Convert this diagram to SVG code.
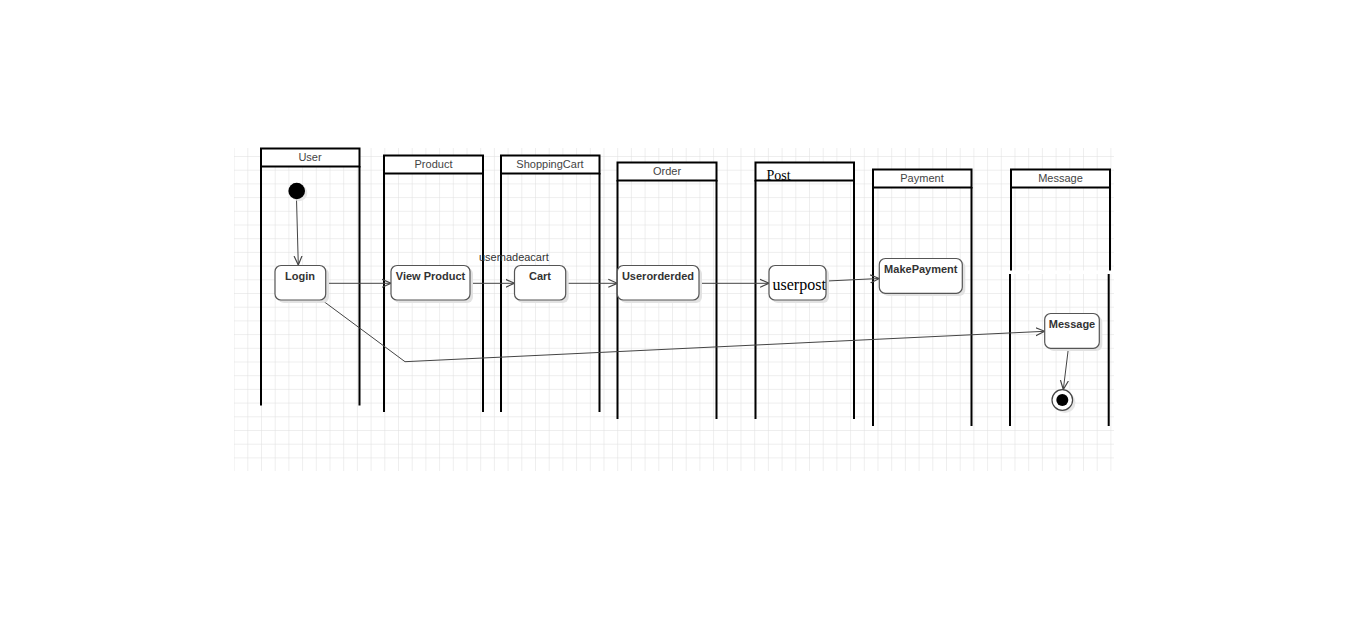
<svg xmlns="http://www.w3.org/2000/svg" width="1350" height="619" viewBox="0 0 1350 619">
<style>
.lane{fill:none;stroke:#000;stroke-width:2}
.hdr{fill:#fff;stroke:#000;stroke-width:2}
.ht{font-family:"Liberation Sans",Arial,sans-serif;font-size:11px;fill:#444;text-anchor:middle}
.node{fill:#fff;stroke:#555;stroke-width:1.2}
.shadow{fill:#e2e2e2}
.nt{font-family:"Liberation Sans",Arial,sans-serif;font-size:11px;font-weight:bold;fill:#333;text-anchor:middle}
.st{font-family:"Liberation Serif","Times New Roman",serif;fill:#000}
.edge{fill:none;stroke:#444;stroke-width:1}
.lbl{font-family:"Liberation Sans",Arial,sans-serif;font-size:11px;fill:#333}
</style>
<defs>
<pattern id="grid" x="233.6" y="142.3" width="13.7" height="13.7" patternUnits="userSpaceOnUse">
<path d="M0 0H13.7M0 0V13.7" fill="none" stroke="#dedede" stroke-width="1"/>
</pattern>
<marker id="arr" viewBox="0 0 10 10" refX="9" refY="5" markerWidth="10" markerHeight="10" markerUnits="userSpaceOnUse" orient="auto">
<path d="M0 1L9 5L0 9" fill="none" stroke="#444" stroke-width="1.2"/>
</marker>
</defs>
<rect width="1350" height="619" fill="#fff"/>
<rect x="234" y="148" width="880" height="323" fill="url(#grid)"/>
<rect x="1005" y="270.5" width="112" height="3.5" fill="#fff"/>

<g id="lane-user">
<path class="lane" d="M261 166V405.5M359.5 166V405.5"/>
<rect class="hdr" x="261" y="148.5" width="98.5" height="18"/>
<text class="ht" x="310" y="161">User</text>
</g>
<g id="lane-product">
<path class="lane" d="M384 173V412M483 173V412"/>
<rect class="hdr" x="384" y="155.5" width="99" height="18"/>
<text class="ht" x="433.5" y="168">Product</text>
</g>
<g id="lane-shoppingcart">
<path class="lane" d="M501 173V412M599.5 173V412"/>
<rect class="hdr" x="501" y="155.5" width="98.5" height="18"/>
<text class="ht" x="550" y="168">ShoppingCart</text>
</g>
<g id="lane-order">
<path class="lane" d="M617.5 180V419M716.5 180V419"/>
<rect class="hdr" x="617.5" y="162.5" width="99" height="18"/>
<text class="ht" x="667" y="175">Order</text>
</g>
<g id="lane-post">
<path class="lane" d="M755.5 180V419M854 180V419"/>
<rect class="hdr" x="755.5" y="162.5" width="98.5" height="18"/>
<text class="st" x="766.5" y="180" font-size="14">Post</text>
</g>
<g id="lane-payment">
<path class="lane" d="M873 187V426M971.5 187V426"/>
<rect class="hdr" x="873" y="169.5" width="98.5" height="18"/>
<text class="ht" x="922" y="182">Payment</text>
</g>
<g id="lane-message">
<path class="lane" d="M1011 187V270.5M1110 187V270.5M1010 274V426M1108.7 274V426"/>
<rect class="hdr" x="1011" y="169.5" width="99" height="18"/>
<text class="ht" x="1060.5" y="182">Message</text>
</g>

<g id="connectors">
<path class="edge" d="M296.5 199L298.3 265" marker-end="url(#arr)"/>
<path class="edge" d="M325.5 283.3H391" marker-end="url(#arr)"/>
<path class="edge" d="M470 283.3H514.5" marker-end="url(#arr)"/>
<text class="lbl" x="479" y="261">usemadeacart</text>
<path class="edge" d="M565.7 283.3H617.3" marker-end="url(#arr)"/>
<path class="edge" d="M699 283.3H769" marker-end="url(#arr)"/>
<path class="edge" d="M827 281L879.3 278.5" marker-end="url(#arr)"/>
<path class="edge" d="M322.5 300.5L405 361.7L1044.7 331.3" marker-end="url(#arr)"/>
<path class="edge" d="M1068.3 349L1063.3 389.5" marker-end="url(#arr)"/>
</g>

<g id="initial">
<circle cx="299" cy="193" r="8.3" fill="#e6e6e6"/>
<circle cx="296.7" cy="191" r="8.3" fill="#000"/>
</g>
<g id="login">
<rect class="shadow" x="278" y="268" width="51" height="35" rx="6"/>
<rect class="node" x="275" y="265.5" width="50.7" height="34.5" rx="6"/>
<text class="nt" x="300" y="280">Login</text>
</g>
<g id="view-product">
<rect class="shadow" x="394" y="268" width="79" height="35" rx="6"/>
<rect class="node" x="391" y="265.5" width="79" height="34.5" rx="6"/>
<text class="nt" x="430.5" y="280">View Product</text>
</g>
<g id="cart">
<rect class="shadow" x="517" y="268" width="51.7" height="35" rx="6"/>
<rect class="node" x="514.5" y="265.5" width="51.2" height="34.5" rx="6"/>
<text class="nt" x="540" y="280">Cart</text>
</g>
<g id="userorderded">
<rect class="shadow" x="620.3" y="268" width="81.7" height="35" rx="6"/>
<rect class="node" x="617.3" y="265.5" width="81.7" height="34.5" rx="6"/>
<text class="nt" x="658" y="280">Userorderded</text>
</g>
<g id="userpost">
<rect class="shadow" x="772" y="268" width="57" height="35" rx="6"/>
<rect class="node" x="769" y="265.5" width="57" height="34.5" rx="6"/>
<text class="st" x="772.5" y="290" font-size="16">userpost</text>
</g>
<g id="makepayment">
<rect class="shadow" x="882.3" y="261" width="83" height="35" rx="6"/>
<rect class="node" x="879.3" y="258.5" width="83" height="34.8" rx="6"/>
<text class="nt" x="920.8" y="273">MakePayment</text>
</g>
<g id="message">
<rect class="shadow" x="1047.7" y="316" width="54.6" height="35" rx="6"/>
<rect class="node" x="1044.7" y="313.5" width="54.6" height="34.8" rx="6"/>
<text class="nt" x="1072" y="328">Message</text>
</g>
<g id="final">
<circle cx="1065" cy="402.5" r="10.5" fill="#e6e6e6"/>
<circle cx="1062.3" cy="400" r="10.3" fill="#fff" stroke="#444" stroke-width="1.2"/>
<circle cx="1062.3" cy="400" r="6" fill="#000"/>
</g>
</svg>
